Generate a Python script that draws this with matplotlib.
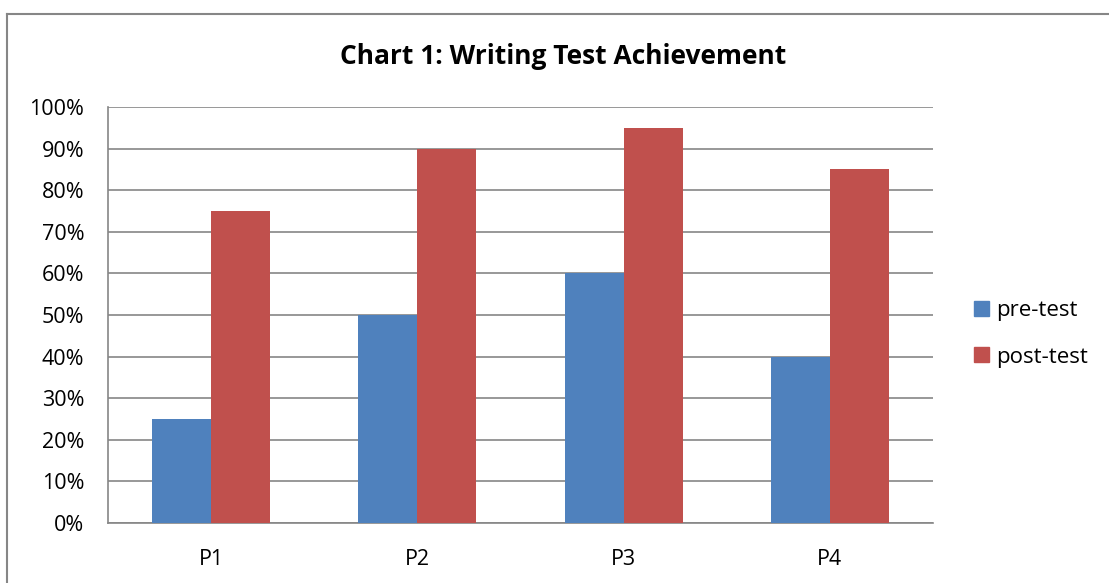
import numpy as np
import matplotlib.pyplot as plt
from matplotlib.patches import Patch
from matplotlib.lines import Line2D

categories = ["P1", "P2", "P3", "P4"]
pre_test = [25, 50, 60, 40]
post_test = [75, 90, 95, 85]

plt.rcParams['font.family'] = ['Open Sans', 'DejaVu Sans']

W, H = 1109, 583
fig = plt.figure(figsize=(W/100, H/100), dpi=100)

# outer chart border (top and left only visible)
fig.add_artist(Line2D([7/W, 7/W], [0, 1 - 14/H], color='#868686', lw=1.5))
fig.add_artist(Line2D([7/W, 1], [1 - 14/H, 1 - 14/H], color='#868686', lw=1.5))

ax = fig.add_axes([108/W, 1 - 523/H, (933-108)/W, (523-107)/H])

x = np.arange(len(categories))
bw = 0.286
ax.bar(x - bw/2, pre_test, bw, color='#4F81BD', label='pre-test', zorder=3)
ax.bar(x + bw/2, post_test, bw, color='#C0504D', label='post-test', zorder=3)

ax.set_xlim(-0.5, len(categories) - 0.5)
ax.set_ylim(0, 100)
ax.set_yticks(range(0, 101, 10))
ax.set_yticklabels([f"{v}%" for v in range(0, 101, 10)], fontsize=15.5)
ax.set_xticks(x)
ax.set_xticklabels(categories, fontsize=15.5)
ax.tick_params(axis='y', length=0, pad=17)
ax.tick_params(axis='x', length=0, pad=19)
ax.grid(axis='y', color='#868686', lw=1.2, zorder=0)

for s in ['top', 'right']:
    ax.spines[s].set_visible(False)
ax.spines['left'].set_color('#868686')
ax.spines['bottom'].set_color('#868686')
ax.spines['left'].set_linewidth(1.2)
ax.spines['bottom'].set_linewidth(1.2)

fig.text(563/W, 1 - 57/H, "Chart 1: Writing Test Achievement", ha='center', va='center',
         fontsize=19, fontweight='bold')

handles = [Patch(color='#4F81BD', label='pre-test'), Patch(color='#C0504D', label='post-test')]
fig.legend(handles=handles, loc='center left', bbox_to_anchor=(974/W, 1 - 334/H), frameon=False,
           fontsize=16, borderpad=0, borderaxespad=0, handlelength=0.66, handleheight=0.66,
           handletextpad=0.35, labelspacing=1.15)

fig.savefig("out.png", dpi=100)
